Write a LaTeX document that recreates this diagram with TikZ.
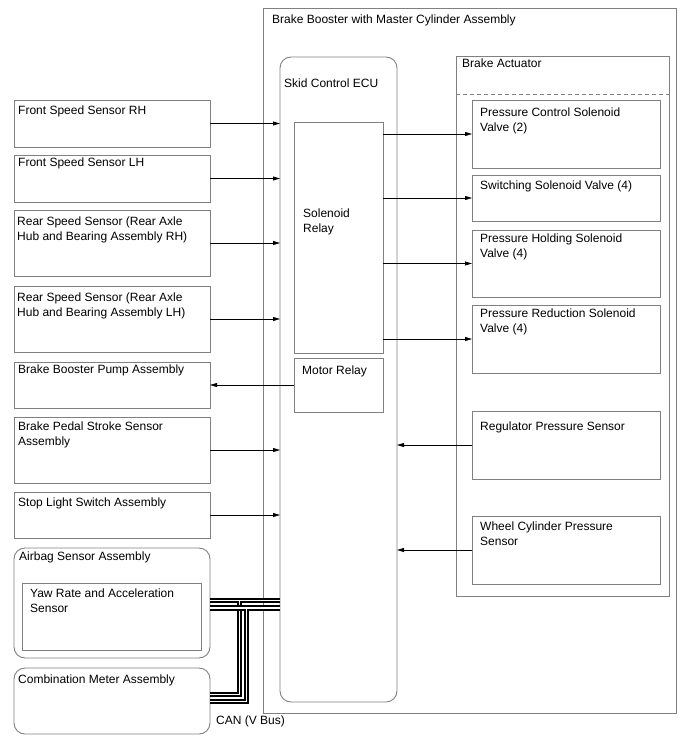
\documentclass[tikz,border=0pt]{standalone}
\usepackage{fontspec}
\setmainfont{Liberation Sans}
\usetikzlibrary{arrows.meta}
\definecolor{boxgray}{RGB}{128,128,128}
\begin{document}
\begin{tikzpicture}[x=1pt,y=-1pt,
  box/.style={draw=boxgray, line width=0.9pt, anchor=north west, inner sep=0pt, outer sep=0pt},
  rbox/.style={box, rounded corners=11pt},
  lbl/.style={anchor=north west, inner sep=3pt, align=left, font=\fontsize{12}{14.5}\selectfont},
  arr/.style={draw=black, line width=0.8pt, -{Triangle[length=7pt,width=4pt]}},
  canw/.style={draw=black, line width=2.2pt, double=white, double distance=1.4pt}]
\useasboundingbox (0,0) rectangle (688,755);

% main assemblies
\node[box, minimum width=413pt, minimum height=705pt] (outer) at (263,8) {};
\node[lbl] at ([shift={(6,4)}]outer.north west) {Brake Booster with Master Cylinder Assembly};
\node[rbox, minimum width=117pt, minimum height=645pt] (ecu) at (280,57) {};
\node[lbl] at ([shift={(1,19)}]ecu.north west) {Skid Control ECU};
\node[box, minimum width=89pt, minimum height=231pt] (sol) at (294,122) {};
\node[lbl] at ([shift={(6,84)}]sol.north west) {Solenoid\\Relay};
\node[box, minimum width=89pt, minimum height=54pt] (mr) at (294,358) {};
\node[lbl] at ([shift={(5,5)}]mr.north west) {Motor Relay};
\node[box, minimum width=213pt, minimum height=540pt] (act) at (456,56) {};
\node[lbl] at ([shift={(3,0)}]act.north west) {Brake Actuator};
\coordinate (dl) at (456,94);
\draw[boxgray, line width=0.9pt, dash pattern=on 4pt off 3pt] (dl) -- (dl -| act.east);

% actuator contents
\node[box, minimum width=188pt, minimum height=68pt] (pcsv) at (472,100) {};
\node[lbl] at ([shift={(5,5)}]pcsv.north west) {Pressure Control Solenoid\\Valve (2)};
\node[box, minimum width=188pt, minimum height=46pt] (ssv) at (472,175) {};
\node[lbl] at ([shift={(5,3)}]ssv.north west) {Switching Solenoid Valve (4)};
\node[box, minimum width=188pt, minimum height=67pt] (phsv) at (472,230) {};
\node[lbl] at ([shift={(5,1)}]phsv.north west) {Pressure Holding Solenoid\\Valve (4)};
\node[box, minimum width=188pt, minimum height=68pt] (prsv) at (472,305) {};
\node[lbl] at ([shift={(5,1)}]prsv.north west) {Pressure Reduction Solenoid\\Valve (4)};
\node[box, minimum width=188pt, minimum height=68pt] (rps) at (472,411) {};
\node[lbl] at ([shift={(5,8)}]rps.north west) {Regulator Pressure Sensor};
\node[box, minimum width=188pt, minimum height=68pt] (wcps) at (472,516) {};
\node[lbl] at ([shift={(5,3)}]wcps.north west) {Wheel Cylinder Pressure\\Sensor};

% left side
\node[box, minimum width=196pt, minimum height=47pt] (frs) at (14,100) {};
\node[lbl] at ([shift={(1,3)}]frs.north west) {Front Speed Sensor RH};
\node[box, minimum width=196pt, minimum height=47pt] (fls) at (14,155) {};
\node[lbl] at ([shift={(1,0)}]fls.north west) {Front Speed Sensor LH};
\node[box, minimum width=196pt, minimum height=66pt] (rrs) at (14,210) {};
\node[lbl] at ([shift={(0,4)}]rrs.north west) {Rear Speed Sensor (Rear Axle\\Hub and Bearing Assembly RH)};
\node[box, minimum width=196pt, minimum height=66pt] (rls) at (14,286) {};
\node[lbl] at ([shift={(0,4)}]rls.north west) {Rear Speed Sensor (Rear Axle\\Hub and Bearing Assembly LH)};
\node[box, minimum width=196pt, minimum height=46pt] (pump) at (14,362) {};
\node[lbl] at ([shift={(1,0)}]pump.north west) {Brake Booster Pump Assembly};
\node[box, minimum width=196pt, minimum height=66pt] (bps) at (14,417) {};
\node[lbl] at ([shift={(1,2)}]bps.north west) {Brake Pedal Stroke Sensor\\Assembly};
\node[box, minimum width=196pt, minimum height=46pt] (sls) at (14,492) {};
\node[lbl] at ([shift={(1,3)}]sls.north west) {Stop Light Switch Assembly};
\node[rbox, minimum width=196pt, minimum height=110pt] (airbag) at (14,548) {};
\node[lbl] at ([shift={(2,1)}]airbag.north west) {Airbag Sensor Assembly};
\node[box, minimum width=179pt, minimum height=67pt] (yaw) at (22,583) {};
\node[lbl] at ([shift={(5,3)}]yaw.north west) {Yaw Rate and Acceleration\\Sensor};
\node[rbox, minimum width=196pt, minimum height=66pt] (cmb) at (14,668) {};
\node[lbl] at ([shift={(1,4)}]cmb.north west) {Combination Meter Assembly};

% arrows into ECU
\foreach \n in {frs,fls,rrs,rls,bps,sls}
  \draw[arr] (\n.east) -- (\n.east -| ecu.west);
\draw[arr] (mr.west) -- (mr.west -| pump.east);
\foreach \n in {pcsv,ssv,phsv,prsv}
  \draw[arr] (\n.west -| sol.east) -- (\n.west);
\foreach \n in {rps,wcps}
  \draw[arr] (\n.west) -- (\n.west -| ecu.east);

% CAN bus
\coordinate (canU) at (239.5,600.5);
\coordinate (canL) at (246.5,608);
\coordinate (botU) at (239.5,694.5);
\coordinate (botL) at (246.5,701.5);
\draw[canw] (airbag.east |- canU) -- (ecu.west |- canU) (canU) -- (botU) -- (cmb.east |- botU);
\draw[canw] (airbag.east |- canL) -- (ecu.west |- canL) (canL) -- (botL) -- (cmb.east |- botL);
\node[anchor=base west, inner sep=0pt, font=\fontsize{12}{14.5}\selectfont] (canlbl) at (216,724) {CAN (V Bus)};
\end{tikzpicture}
\end{document}
